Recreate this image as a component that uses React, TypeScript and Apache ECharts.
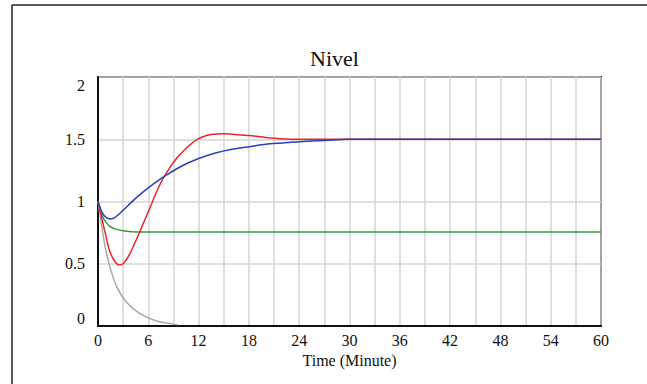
import React, { useEffect, useRef } from 'react';
import * as echarts from 'echarts';

// Time (minutes) and values for each series
const blueT = [0, 0.5, 1, 1.5, 2, 3, 4, 5, 6, 7, 8, 10, 12, 14, 16, 18, 20, 22, 24, 27, 30, 36, 42, 60];
const blueV = [1.0, 0.91, 0.87, 0.86, 0.87, 0.93, 0.995, 1.055, 1.11, 1.16, 1.205, 1.285, 1.345, 1.39, 1.42, 1.44, 1.46, 1.47, 1.48, 1.49, 1.5, 1.5, 1.5, 1.5];

const redT = [0, 0.25, 0.5, 0.85, 1.4, 2, 2.5, 3, 3.8, 5, 6.2, 7, 7.8, 9.4, 11.4, 12.5, 13.7, 15, 16, 18, 20, 21.7, 24, 30, 60];
const redV = [1.0, 0.93, 0.85, 0.75, 0.6, 0.52, 0.49, 0.5, 0.58, 0.76, 0.95, 1.08, 1.19, 1.35, 1.48, 1.52, 1.54, 1.545, 1.54, 1.53, 1.515, 1.505, 1.5, 1.5, 1.5];

const greenT = [0, 0.3, 0.6, 1, 1.4, 2, 3, 4, 5, 60];
const greenV = [1.0, 0.93, 0.87, 0.83, 0.8, 0.78, 0.765, 0.758, 0.755, 0.755];

const grayT = [0, 0.4, 0.84, 1.4, 2.2, 3.4, 5, 7, 9, 9.5];
const grayV = [1.0, 0.82, 0.64, 0.48, 0.32, 0.19, 0.1, 0.04, 0.015, 0.01];

const yTickLabels = ['0', '0.5', '1', '1.5', '2'];

const pair = (t: number[], v: number[]) => t.map((x, i) => [x, v[i]]);

const FONT = 'Liberation Serif';

export default function App() {
  const ref = useRef<HTMLDivElement>(null);
  useEffect(() => {
    document.body.style.margin = '0';
    const chart = echarts.init(ref.current!, null, { renderer: 'svg' });
    chart.setOption({
      animation: false,
      backgroundColor: '#fff',
      title: {
        text: 'Nivel',
        left: 305,
        top: 42,
        textStyle: { fontFamily: FONT, fontSize: 22, fontWeight: 'normal', color: '#111' },
      },
      graphic: [
        {
          type: 'line',
          shape: { x1: 12, y1: 5, x2: 12, y2: 384 },
          style: { stroke: '#222', lineWidth: 1.5 },
          silent: true,
        },
        {
          type: 'line',
          shape: { x1: 12, y1: 5, x2: 647, y2: 5 },
          style: { stroke: '#222', lineWidth: 1.5 },
          silent: true,
        },
      ],
      grid: {
        left: 98,
        right: 46,
        top: 77,
        bottom: 58,
        show: true,
        borderColor: '#111',
        borderWidth: 2,
        backgroundColor: 'transparent',
      },
      xAxis: {
        type: 'value',
        min: 0,
        max: 60,
        interval: 3,
        name: 'Time (Minute)',
        nameLocation: 'middle',
        nameGap: 25,
        nameTextStyle: { fontFamily: FONT, fontSize: 16, color: '#111' },
        axisLine: { show: true, lineStyle: { color: '#111', width: 2 } },
        axisTick: { show: false },
        axisLabel: {
          fontFamily: FONT,
          fontSize: 16,
          color: '#111',
          margin: 6,
          formatter: (v: number) => (v % 6 === 0 ? String(v) : ''),
        },
        splitLine: { show: true, lineStyle: { color: '#d4d4d4', width: 1.5 } },
      },
      yAxis: {
        type: 'value',
        min: 0,
        max: 2,
        interval: 0.5,
        axisLine: { show: true, lineStyle: { color: '#111', width: 2 } },
        axisTick: { show: false },
        axisLabel: {
          margin: 13,
          fontFamily: FONT,
          fontSize: 16,
          color: '#111',
          verticalAlignMinLabel: 'bottom',
          verticalAlignMaxLabel: 'top',
          formatter: (v: number) => yTickLabels[Math.round(v / 0.5)],
        },
        splitLine: { show: true, lineStyle: { color: '#d4d4d4', width: 1.5 } },
      },
      series: [
        {
          type: 'line',
          data: pair(grayT, grayV),
          smooth: 0.3,
          showSymbol: false,
          lineStyle: { color: '#aaaaaa', width: 1.5 },
        },
        {
          type: 'line',
          data: pair(greenT, greenV),
          smooth: 0.3,
          showSymbol: false,
          lineStyle: { color: '#3a9a3a', width: 1.5 },
        },
        {
          type: 'line',
          data: pair(redT, redV),
          smooth: 0.3,
          showSymbol: false,
          lineStyle: { color: '#e8262a', width: 1.5 },
        },
        {
          type: 'line',
          data: pair(blueT, blueV),
          smooth: 0.3,
          showSymbol: false,
          lineStyle: { color: '#2a40b8', width: 1.5 },
        },
      ],
    });
    return () => chart.dispose();
  }, []);
  return (
    <div
      ref={ref}
      style={{ position: 'fixed', left: 0, top: 0, width: 647, height: 384, background: '#fff' }}
    />
  );
}
